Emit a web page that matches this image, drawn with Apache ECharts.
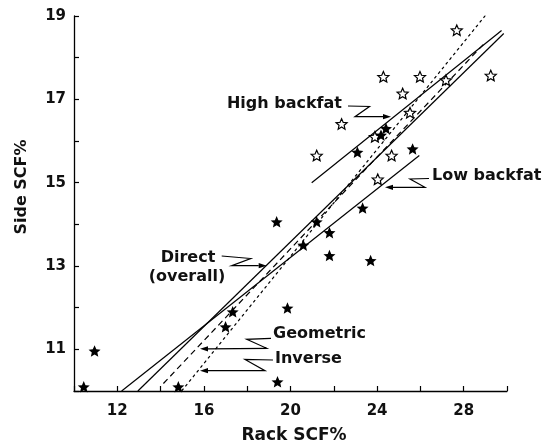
<!DOCTYPE html>
<html><head><meta charset="utf-8">
<script src="https://cdn.jsdelivr.net/npm/echarts@6/dist/echarts.min.js"></script>
<style>html,body{margin:0;padding:0;background:#fff}#c{width:550px;height:444px}</style>
</head><body><div id="c"></div>
<script>
// ---- data ----
const xTickLabels = [12, 16, 20, 24, 28];
const yTickLabels = [11, 13, 15, 17, 19];

// Low backfat pigs (filled stars)
const lowX = [10.45, 10.95, 14.82, 19.40, 19.86, 17.00, 17.33, 19.36, 20.59, 21.21, 21.80, 21.80, 23.70, 23.33, 23.09, 24.18, 24.41, 25.64];
const lowY = [10.10, 10.96, 10.10, 10.22, 11.99, 11.54, 11.90, 14.06, 13.50, 14.06, 13.80, 13.25, 13.13, 14.39, 15.73, 16.14, 16.30, 15.81];

// High backfat pigs (open stars)
const highX = [27.68, 24.29, 25.98, 29.25, 27.18, 25.18, 25.52, 22.36, 21.21, 23.90, 24.67, 24.03];
const highY = [18.66, 17.54, 17.54, 17.57, 17.46, 17.14, 16.68, 16.41, 15.65, 16.10, 15.65, 15.08];

// Regression lines (endpoints)
const directX = [12.95, 29.85];   const directY = [10.00, 18.58];
const lowLineX = [12.20, 25.95];  const lowLineY = [10.00, 15.65];
const highLineX = [20.98, 29.75]; const highLineY = [15.00, 18.65];
const geomX = [14.13, 29.02];     const geomY = [10.18, 18.38];
const invX = [14.97, 29.06];      const invY = [10.00, 19.05];

const zip = (a, b) => a.map((v, i) => [v, b[i]]);
const STAR = 'path://M0,-10 L2.8,-3.6 L9.5,-3.1 L4.4,1.4 L5.9,8.1 L0,4.5 L-5.9,8.1 L-4.4,1.4 L-9.5,-3.1 L-2.8,-3.6 Z';
const FONT = '"DejaVu Sans", sans-serif';

const chart = echarts.init(document.getElementById('c'), null, {renderer: 'canvas'});

function lineSeries(name, xs, ys, type) {
  return {
    name, type: 'line', data: zip(xs, ys), symbol: 'none', silent: true,
    lineStyle: {color: '#000', width: 1.2, type: type || 'solid'}, z: 2
  };
}

// annotation leaders (pixel layout)
function leader(pts) {
  const n = pts.length, t = pts[n - 1], p = pts[n - 2];
  const dir = Math.sign(t[0] - p[0]) || 1;
  const L = 8, W = 2.6;
  return [
    {type: 'polyline', shape: {points: pts.slice(0, n - 1).concat([[t[0] - dir * L, t[1]]])}, style: {stroke: '#000', lineWidth: 1.2, fill: null}, z: 10},
    {type: 'polygon', shape: {points: [[t[0], t[1]], [t[0] - dir * L, t[1] - W], [t[0] - dir * L, t[1] + W]]}, style: {fill: '#000'}, z: 10}
  ];
}
function label(text, x, y, align) {
  return {type: 'text', x, y, z: 10, style: {text, font: 'bold 16px ' + FONT, fill: '#111', align: align || 'left', verticalAlign: 'middle'}};
}

const graphics = [].concat(
  label('High backfat', 342, 104, 'right'),
  leader([[348, 106], [369.5, 106.5], [355, 116.7], [391, 116.7]]),
  label('Low backfat', 432, 176, 'left'),
  leader([[429, 178.5], [410, 179], [425, 187.3], [385, 187.3]]),
  label('Direct', 188, 258, 'center'),
  label('(overall)', 187, 277, 'center'),
  leader([[221.7, 256], [250.7, 258.5], [231.7, 265.7], [266.7, 265.7]]),
  label('Geometric', 273, 334, 'left'),
  leader([[271, 338.3], [246.7, 339.3], [266.7, 348.3], [200, 348.8]]),
  label('Inverse', 275, 359, 'left'),
  leader([[273, 360], [245, 359.5], [265, 370.7], [200, 370.7]]),
  [{type: 'text', x: 22, y: 187, rotation: Math.PI / 2, z: 10,
    style: {text: 'Side SCF%', font: 'bold 16px ' + FONT, fill: '#111', align: 'center', verticalAlign: 'middle'}},
   {type: 'text', x: 294, y: 436, z: 10,
    style: {text: 'Rack SCF%', font: 'bold 17px ' + FONT, fill: '#111', align: 'center', verticalAlign: 'middle'}}]
);

chart.setOption({
  animation: false,
  backgroundColor: '#fff',
  grid: {left: 74, right: 43, top: 16, bottom: 53, containLabel: false},
  xAxis: {
    type: 'value', min: 10, max: 30, interval: 2,
    axisLine: {onZero: false, lineStyle: {color: '#000', width: 1.3}},
    axisTick: {inside: true, length: 5, lineStyle: {color: '#000', width: 1.2}},
    splitLine: {show: false},
    axisLabel: {margin: 13, color: '#111', fontFamily: FONT, fontWeight: 'bold', fontSize: 15,
      formatter: v => xTickLabels.includes(v) ? String(v) : ''}
  },
  yAxis: {
    type: 'value', min: 10, max: 19, interval: 1,
    axisLine: {show: true, onZero: false, lineStyle: {color: '#000', width: 1.3}},
    axisTick: {show: true, inside: true, length: 5, lineStyle: {color: '#000', width: 1.2}},
    splitLine: {show: false},
    axisLabel: {margin: 8, color: '#111', fontFamily: FONT, fontWeight: 'bold', fontSize: 15,
      formatter: v => yTickLabels.includes(v) ? String(v) : ''}
  },
  series: [
    lineSeries('Direct (overall)', directX, directY),
    lineSeries('Low backfat line', lowLineX, lowLineY),
    lineSeries('High backfat line', highLineX, highLineY),
    lineSeries('Geometric', geomX, geomY, [6, 4]),
    lineSeries('Inverse', invX, invY, [3, 3]),
    {name: 'High backfat', type: 'scatter', data: zip(highX, highY), symbol: STAR, symbolSize: 11, symbolKeepAspect: true,
      itemStyle: {color: '#fff', borderColor: '#000', borderWidth: 1.2, opacity: 1}, z: 5},
    {name: 'Low backfat', type: 'scatter', data: zip(lowX, lowY), symbol: STAR, symbolSize: 12, symbolKeepAspect: true,
      itemStyle: {color: '#000', opacity: 1}, z: 5}
  ],
  graphic: graphics
});
</script></body></html>
